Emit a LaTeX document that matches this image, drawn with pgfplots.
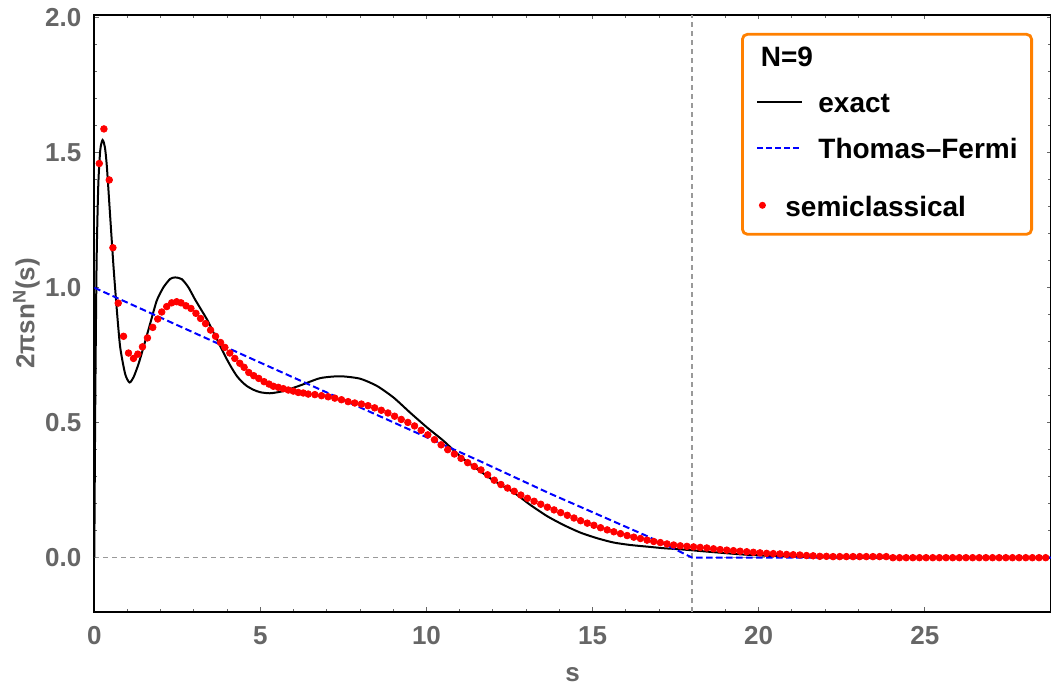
\documentclass[border=0pt]{standalone}
\usepackage{pgfplots}
\pgfplotsset{compat=1.18}
\usepackage{fontspec}
\setmainfont{Liberation Sans}
\definecolor{tickgray}{HTML}{666666}
\definecolor{gridgray}{HTML}{999999}
\definecolor{legorange}{RGB}{255,128,0}
\begin{document}
\begin{tikzpicture}
\useasboundingbox (0,0) rectangle (525.5pt,345.5pt);
\begin{axis}[
  at={(47.15pt,39.65pt)}, anchor=south west,
  width=478.35pt, height=298.35pt, scale only axis,
  xmin=0, xmax=28.8, ymin=-0.2, ymax=2.01,
  xtick={0,5,10,15,20,25}, ytick={0,0.5,1,1.5,2},
  minor x tick num=4, minor y tick num=4,
  /pgf/number format/assume math mode=true,
  tick label style={font=\fontsize{13}{15}\selectfont\bfseries, text=tickgray},
  xticklabel style={anchor=center, yshift=-12pt},
  yticklabel style={anchor=east, xshift=-3pt, /pgf/number format/fixed, /pgf/number format/fixed zerofill, /pgf/number format/precision=1},
  tick style={tickgray, line width=0.5pt},
  major tick length=2.2pt, minor tick length=1.5pt,
  axis line style={line width=1pt, black},
  xlabel={s}, ylabel={2πsn\textsuperscript{N}(s)},
  label style={font=\fontsize{13}{15}\selectfont\bfseries, text=tickgray},
  xlabel style={at={(axis description cs:0.5,-0.105)}, anchor=center},
  ylabel style={at={(axis description cs:-0.071,0.5)}, anchor=center},
  legend style={at={(0.676,0.970)}, anchor=north west, draw=legorange, line width=1.4pt,
    rounded corners=2.5pt, fill=white, font=\fontsize{14}{16}\selectfont\bfseries,
    inner xsep=7pt, inner ysep=6pt, row sep=13pt, column sep=7.5pt,
    nodes={inner sep=0pt, text height=10pt, text depth=0pt}},
  legend cell align=left,
]
% reference lines
\addplot[forget plot, gridgray, line width=0.75pt, dash pattern=on 2.5pt off 2pt] coordinates {(18,-0.2) (18,2.01)};
\addplot[forget plot, gridgray, line width=0.75pt, dash pattern=on 2.5pt off 2pt] coordinates {(0,0) (28.8,0)};
% semiclassical
\addplot[forget plot, only marks, mark=*, mark size=1.65pt, red, mark options={draw=none, fill=red}] coordinates {
(0.15,1.460)(0.29,1.588)(0.45,1.399)(0.56,1.148)(0.72,0.943)(0.88,0.820)(1.03,0.758)(1.18,0.738)(1.31,0.754)(1.45,0.781)
(1.60,0.814)(1.76,0.853)(1.91,0.884)(2.03,0.910)(2.18,0.930)(2.33,0.944)(2.48,0.948)(2.61,0.944)(2.76,0.933)(2.91,0.923)
(3.06,0.905)(3.20,0.886)(3.35,0.867)(3.50,0.843)(3.65,0.820)(3.80,0.797)(3.93,0.779)(4.08,0.758)(4.23,0.738)(4.38,0.720)
(4.51,0.705)(4.65,0.686)(4.80,0.674)(4.95,0.664)(5.11,0.652)(5.26,0.643)(5.39,0.635)(5.54,0.631)(5.69,0.626)(5.84,0.621)
(5.99,0.617)(6.14,0.612)(6.29,0.610)(6.44,0.606)(6.64,0.604)(6.84,0.600)(7.04,0.596)(7.24,0.591)(7.44,0.585)(7.64,0.578)
(7.84,0.573)(8.04,0.569)(8.24,0.563)(8.44,0.555)(8.64,0.546)(8.84,0.536)(9.04,0.524)(9.24,0.512)(9.44,0.501)(9.64,0.488)
(9.84,0.472)(10.04,0.455)(10.24,0.437)(10.44,0.418)(10.64,0.400)(10.84,0.384)(11.04,0.368)(11.24,0.352)(11.44,0.338)(11.64,0.325)
(11.84,0.307)(12.04,0.287)(12.24,0.271)(12.44,0.258)(12.64,0.246)(12.84,0.232)(13.04,0.220)(13.24,0.209)(13.44,0.198)(13.64,0.187)
(13.84,0.177)(14.04,0.167)(14.24,0.157)(14.44,0.147)(14.64,0.137)(14.84,0.128)(15.04,0.120)(15.24,0.111)(15.44,0.103)(15.64,0.096)
(15.84,0.089)(16.04,0.082)(16.24,0.076)(16.44,0.071)(16.64,0.065)(16.84,0.060)(17.04,0.056)(17.24,0.051)(17.44,0.047)(17.64,0.044)
(17.84,0.042)(18.04,0.040)(18.24,0.038)(18.44,0.036)(18.64,0.033)(18.84,0.030)(19.04,0.028)(19.24,0.026)(19.44,0.024)(19.64,0.022)
(19.84,0.020)(20.04,0.018)(20.24,0.016)(20.44,0.015)(20.64,0.014)(20.84,0.012)(21.04,0.011)(21.24,0.010)(21.44,0.008)(21.64,0.007)
(21.84,0.005)(22.04,0.005)(22.24,0.004)(22.44,0.004)(22.64,0.004)(22.84,0.004)(23.04,0.004)(23.24,0.004)(23.44,0.004)(23.64,0.004)
(23.84,0.004)(24.04,0.000)(24.24,0.000)(24.44,0.000)(24.64,0.000)(24.84,0.000)(25.04,0.000)(25.24,0.000)(25.44,0.000)(25.64,0.000)
(25.84,0.000)(26.04,0.000)(26.24,0.000)(26.44,0.000)(26.64,0.000)(26.84,0.000)(27.04,0.000)(27.24,0.000)(27.44,0.000)(27.64,0.000)
(27.84,0.000)(28.04,0.000)(28.24,0.000)(28.44,0.000)(28.64,0.000)
};
% exact
\addplot[forget plot, black, line width=1pt, smooth, tension=0.4] coordinates {
(0,0)(0.03,0.59)(0.07,1.10)(0.12,1.38)(0.18,1.51)(0.25,1.547)(0.32,1.52)(0.38,1.446)(0.48,1.26)(0.58,1.075)
(0.68,0.915)(0.78,0.779)(0.93,0.68)(1.06,0.649)(1.18,0.668)(1.33,0.717)(1.48,0.779)(1.68,0.866)(1.88,0.952)(2.08,1.001)
(2.28,1.032)(2.43,1.038)(2.63,1.032)(2.83,1.002)(3.03,0.957)(3.21,0.920)(3.39,0.883)(3.54,0.846)(3.69,0.809)(3.84,0.772)
(3.99,0.735)(4.14,0.702)(4.29,0.673)(4.44,0.652)(4.59,0.636)(4.79,0.622)(4.99,0.613)(5.29,0.609)(5.69,0.617)(6.2,0.638)
(6.8,0.665)(7.4,0.672)(8.0,0.663)(8.51,0.636)(9.01,0.593)(9.51,0.537)(10.02,0.482)(10.52,0.432)(11.02,0.375)(11.52,0.329)
(12.02,0.286)(12.62,0.242)(13.12,0.196)(13.63,0.154)(14.13,0.121)(14.63,0.093)(15.14,0.072)(15.64,0.056)(16.14,0.047)(16.64,0.041)
(17.15,0.035)(17.65,0.031)(18.5,0.022)(19.5,0.012)(20.5,0.006)(21.5,0.003)(22.5,0.001)(23.5,0)(28.8,0)
};
% Thomas-Fermi
\addplot[forget plot, blue, line width=1pt, dash pattern=on 3.3pt off 1.7pt] coordinates {
(0,1.0)(4.68,0.74)(6.49,0.64)(11.62,0.357)(13.69,0.239)(16.64,0.080)(17.25,0.045)(17.65,0.021)(18,0)(28.8,0)
};
\addlegendimage{empty legend}
\addlegendentry{\hspace*{-32.5pt}N=9}
\addlegendimage{legend image code/.code={\draw[black, line width=1pt] (0pt,0pt) -- (22.5pt,0pt);}}
\addlegendentry{exact}
\addlegendimage{legend image code/.code={\draw[blue, line width=1pt, dash pattern=on 3pt off 1.5pt] (0pt,0pt) -- (22.5pt,0pt);}}
\addlegendentry{Thomas–Fermi}
\addlegendimage{legend image code/.code={\fill[red] (2.5pt,-1pt) circle (1pt);}}
\addlegendentry[text height=16pt, text depth=3pt]{\hspace*{-16.5pt}semiclassical}
\end{axis}
\end{tikzpicture}
\end{document}
